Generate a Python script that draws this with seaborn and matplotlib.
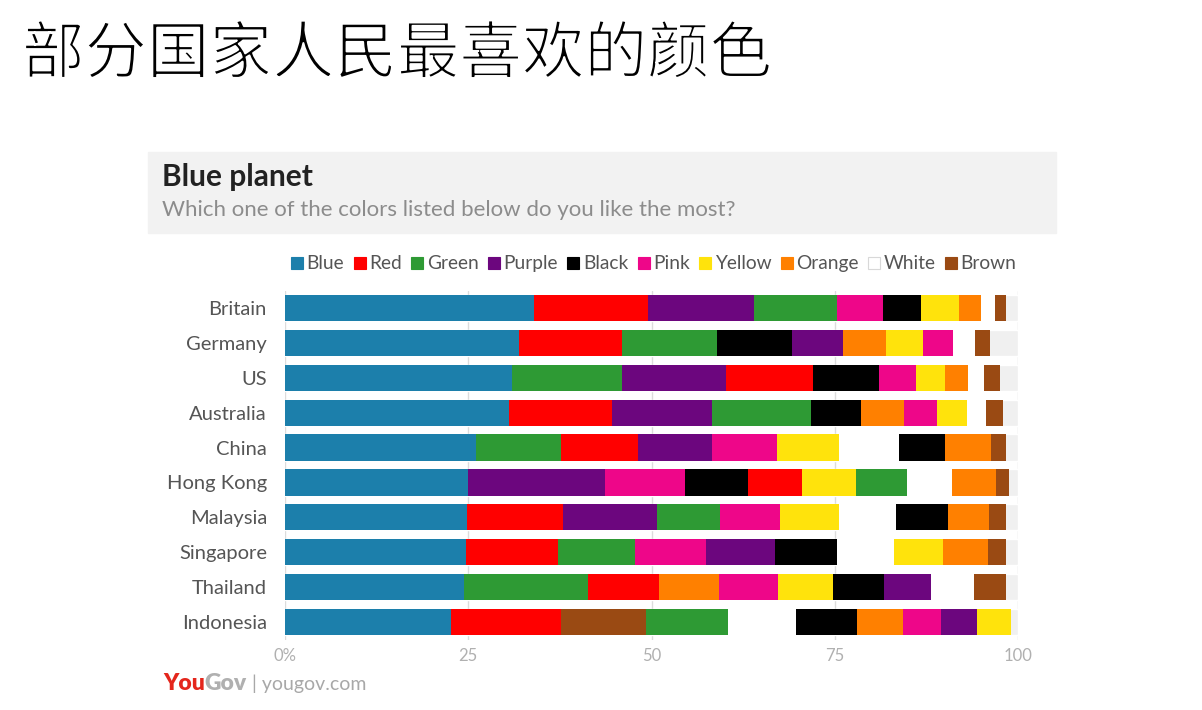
import matplotlib
matplotlib.use("Agg")
import pandas as pd
import matplotlib.pyplot as plt
import matplotlib.patheffects as pe
from matplotlib.lines import Line2D
from matplotlib.patches import Rectangle
import seaborn as sns

# =============================
# Data (share of people, %)
# =============================
countries = ["Britain", "Germany", "US", "Australia", "China", "Hong Kong",
             "Malaysia", "Singapore", "Thailand", "Indonesia"]
colour_names = ["Blue", "Red", "Green", "Purple", "Black", "Pink",
                "Yellow", "Orange", "White", "Brown"]

blue = [34.0, 31.9, 31.0, 30.6, 26.0, 25.0, 24.8, 24.7, 24.4, 22.6]
red = [15.5, 14.1, 12.0, 14.0, 10.4, 7.4, 13.1, 12.5, 9.7, 15.0]
green = [11.3, 13.0, 15.0, 13.5, 11.7, 7.0, 8.5, 10.5, 16.9, 11.1]
purple = [14.5, 7.0, 14.1, 13.7, 10.2, 18.6, 12.9, 9.4, 6.4, 4.9]
black = [5.2, 10.1, 9.0, 6.8, 6.3, 8.6, 7.2, 8.5, 6.9, 8.3]
pink = [6.3, 4.0, 5.0, 4.6, 8.8, 11.0, 8.2, 9.7, 8.0, 5.2]
yellow = [5.1, 5.1, 4.0, 4.1, 8.5, 7.3, 8.1, 6.7, 7.6, 4.7]
orange = [3.0, 5.9, 3.1, 5.8, 6.2, 6.0, 5.5, 6.1, 8.2, 6.3]
white = [2.0, 3.1, 2.2, 2.5, 8.2, 6.1, 7.7, 7.8, 5.9, 9.3]
brown = [1.4, 2.0, 2.1, 2.4, 2.1, 1.8, 2.4, 2.5, 4.4, 11.7]

tick_values = [0, 25, 50, 75, 100]
tick_labels = ["0%", "25", "50", "75", "100"]

palette = {
    "Blue": "#1c7fab", "Red": "#ff0000", "Green": "#2e9a34",
    "Purple": "#6c067e", "Black": "#000000", "Pink": "#ee0689",
    "Yellow": "#ffe30c", "Orange": "#ff8000", "White": "#ffffff",
    "Brown": "#9a4a13",
}

series = [blue, red, green, purple, black, pink, yellow, orange, white, brown]
df = pd.DataFrame({name: vals for name, vals in zip(colour_names, series)},
                  index=countries)

# long table: each row sorted largest first, then stacked
rows = []
for i, country in enumerate(countries):
    ordered = df.loc[country].sort_values(ascending=False, kind="stable")
    left = 0.0
    for colour, val in ordered.items():
        rows.append({"country": country, "pos": i, "colour": colour,
                     "value": val, "left": left})
        left += val
segments = pd.DataFrame(rows)

# =============================
# Figure
# =============================
sns.set_style("white")
plt.rcParams["font.family"] = ["Lato", "DejaVu Sans"]

fig = plt.figure(figsize=(12.02, 7.10), dpi=100)
fig.patch.set_facecolor("white")

# header box
fig.patches.append(Rectangle((148 / 1202, 1 - 233 / 710), 908 / 1202, 81 / 710,
                             transform=fig.transFigure, color="#f2f2f2", zorder=0))

# page title, thinned with a white stroke over the glyph edges
fig.text(22 / 1202, 1 - 55 / 710, "部分国家人民最喜欢的颜色",
         family=["Noto Sans CJK SC", "DejaVu Sans"], fontsize=45,
         weight="light", color="#000000", va="center", ha="left",
         path_effects=[pe.Normal(), pe.Stroke(linewidth=1.4, foreground="white")])
fig.text(162 / 1202, 1 - 177 / 710, "Blue planet", fontsize=21.5,
         weight="bold", color="#222222", va="center", ha="left")
fig.text(162 / 1202, 1 - 210 / 710,
         "Which one of the colors listed below do you like the most?",
         fontsize=16, color="#8c8c8c", va="center", ha="left")

ax = fig.add_axes([285 / 1202, 1 - 639.5 / 710, 733 / 1202, 349 / 710])

# light grey track behind each bar
sns.barplot(x=[100] * len(countries), y=countries, orient="h",
            color="#f0f0f0", saturation=1, width=0.75, ax=ax, zorder=1)

for colour in colour_names:
    part = segments[segments["colour"] == colour]
    ax.barh(part["pos"], part["value"], left=part["left"], height=0.75,
            color=palette[colour], linewidth=0, zorder=2)

ax.set_xlim(0, 100)
ax.set_ylim(len(countries) - 0.5, -0.5)
ax.set_xticks(tick_values)
ax.set_xticklabels(tick_labels)
ax.set_xlabel("")
ax.set_ylabel("")
ax.set_axisbelow(True)
ax.xaxis.grid(True, color="#dcdcdc", linewidth=1)
ax.yaxis.grid(False)
ax.tick_params(axis="x", length=0, pad=6, labelsize=12, labelcolor="#b0b0b0")
ax.tick_params(axis="y", length=0, pad=13, labelsize=14.5, labelcolor="#555555")
sns.despine(ax=ax, left=True, bottom=True)

# legend
handles = []
for colour in colour_names:
    edge = "#d8d8d8" if colour == "White" else palette[colour]
    handles.append(Line2D([], [], marker="s", linestyle="", markersize=8,
                          markerfacecolor=palette[colour], markeredgecolor=edge,
                          markeredgewidth=0.8, label=colour))
fig.legend(handles=handles, loc="center", bbox_to_anchor=(654 / 1202, 1 - 264 / 710),
           ncol=10, frameon=False, fontsize=13.8, labelcolor="#555555",
           handlelength=0.6, handletextpad=0.2, columnspacing=0.5,
           borderpad=0)

# footer
fig.canvas.draw()
renderer = fig.canvas.get_renderer()
x_px = 163
for txt, col, wt, size in [("You", "#e4261c", "heavy", 16.5),
                           ("Gov", "#b0b0b0", "heavy", 16.5),
                           (" | yougov.com", "#a8a8a8", "normal", 14)]:
    t = fig.text(x_px / 1202, 1 - 684 / 710, txt, fontsize=size,
                 weight=wt, color=col, va="center", ha="left")
    bb = t.get_window_extent(renderer=renderer)
    x_px += bb.width

fig.savefig("out.png", dpi=100)
